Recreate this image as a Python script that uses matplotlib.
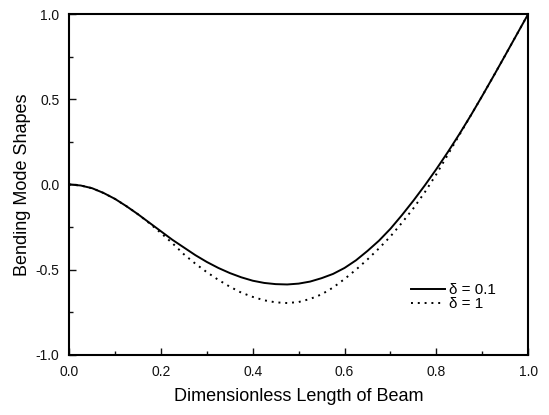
import matplotlib.pyplot as plt
from matplotlib.ticker import MultipleLocator

plt.rcParams['font.family'] = ['Liberation Sans', 'DejaVu Sans']
plt.rcParams['axes.unicode_minus'] = False

# beam length (dimensionless) and mode shapes
x = [0.0, 0.025, 0.05, 0.075, 0.1, 0.125, 0.15, 0.175, 0.2, 0.225,
     0.25, 0.275, 0.3, 0.325, 0.35, 0.375, 0.4, 0.425, 0.45, 0.475,
     0.5, 0.525, 0.55, 0.575, 0.6, 0.625, 0.65, 0.675, 0.7, 0.725,
     0.75, 0.775, 0.8, 0.825, 0.85, 0.875, 0.9, 0.925, 0.95, 0.975, 1.0]
shape_d01 = [0.0, -0.006, -0.022, -0.05, -0.085, -0.128, -0.175, -0.225, -0.275, -0.325,
             -0.37, -0.415, -0.455, -0.49, -0.52, -0.545, -0.565, -0.578, -0.585, -0.587,
             -0.582, -0.57, -0.55, -0.525, -0.49, -0.445, -0.39, -0.33, -0.26, -0.18,
             -0.095, -0.005, 0.09, 0.19, 0.295, 0.405, 0.52, 0.638, 0.758, 0.879, 1.0]
shape_d1 = [0.0, -0.006, -0.022, -0.05, -0.085, -0.128, -0.175, -0.228, -0.285, -0.345,
            -0.41, -0.465, -0.515, -0.56, -0.6, -0.635, -0.66, -0.68, -0.692, -0.696,
            -0.69, -0.672, -0.645, -0.605, -0.555, -0.5, -0.44, -0.375, -0.305, -0.225,
            -0.14, -0.045, 0.06, 0.175, 0.29, 0.405, 0.52, 0.638, 0.758, 0.879, 1.0]
labels = ['δ = 0.1', 'δ = 1']

fig = plt.figure(figsize=(5.49, 4.15), dpi=100)
ax = fig.add_axes([0.126, 0.145, 0.836, 0.821])

ax.plot(x, shape_d01, color='black', lw=1.4, label=labels[0])
ax.plot(x, shape_d1, color='black', lw=1.4, ls=(0, (1, 2.5)), label=labels[1])

ax.set_xlim(0, 1)
ax.set_ylim(-1, 1)
ax.xaxis.set_major_locator(MultipleLocator(0.2))
ax.xaxis.set_minor_locator(MultipleLocator(0.1))
ax.yaxis.set_major_locator(MultipleLocator(0.5))
ax.yaxis.set_minor_locator(MultipleLocator(0.25))
ax.tick_params(which='both', direction='in', top=False, right=False,
               labelsize=10, pad=7, colors='#111111')
ax.tick_params(which='major', length=5, width=1)
ax.tick_params(which='minor', length=3, width=1)
for s in ax.spines.values():
    s.set_linewidth(1.5)

ax.set_xlabel('Dimensionless Length of Beam', fontsize=13, labelpad=7)
ax.set_ylabel('Bending Mode Shapes', fontsize=13, labelpad=3)

ax.legend(loc='center left', bbox_to_anchor=(0.745, 0.17), frameon=False,
          borderaxespad=0, borderpad=0, fontsize=11, handlelength=2.2,
          handletextpad=0.3, labelspacing=0.0)

fig.savefig('out.png', dpi=100)
